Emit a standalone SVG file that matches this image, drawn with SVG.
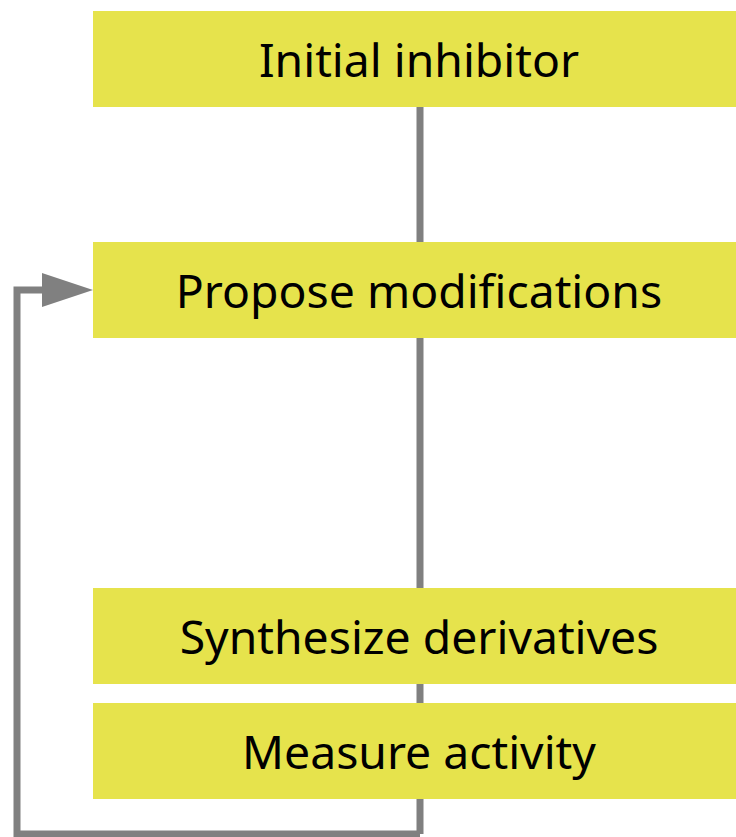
<svg xmlns="http://www.w3.org/2000/svg" width="736" height="837" viewBox="0 0 736 837">
<style>
.box{fill:#e6e34c}
.lbl{font-family:"Noto Sans","Open Sans",sans-serif;font-size:46.3px;fill:#000;text-anchor:middle;dominant-baseline:central}
.conn{fill:none;stroke:#808080;stroke-width:7}
.head{fill:#808080}
</style>
<rect width="736" height="837" fill="#fff"/>
<g id="connectors">
<path class="conn" d="M420,107 V834"/>
<path class="conn" d="M420,834 H17 V290 H46"/>
<polygon class="head" points="42,273 93,290 42,307"/>
</g>
<g id="n1"><rect class="box" x="93" y="11" width="660" height="96"/><text class="lbl" x="419" y="59">Initial inhibitor</text></g>
<g id="n2"><rect class="box" x="93" y="242" width="660" height="96"/><text class="lbl" x="419" y="290">Propose modifications</text></g>
<g id="n3"><rect class="box" x="93" y="588" width="660" height="96"/><text class="lbl" x="419" y="636">Synthesize derivatives</text></g>
<g id="n4"><rect class="box" x="93" y="703" width="660" height="96"/><text class="lbl" x="419" y="751">Measure activity</text></g>
</svg>
